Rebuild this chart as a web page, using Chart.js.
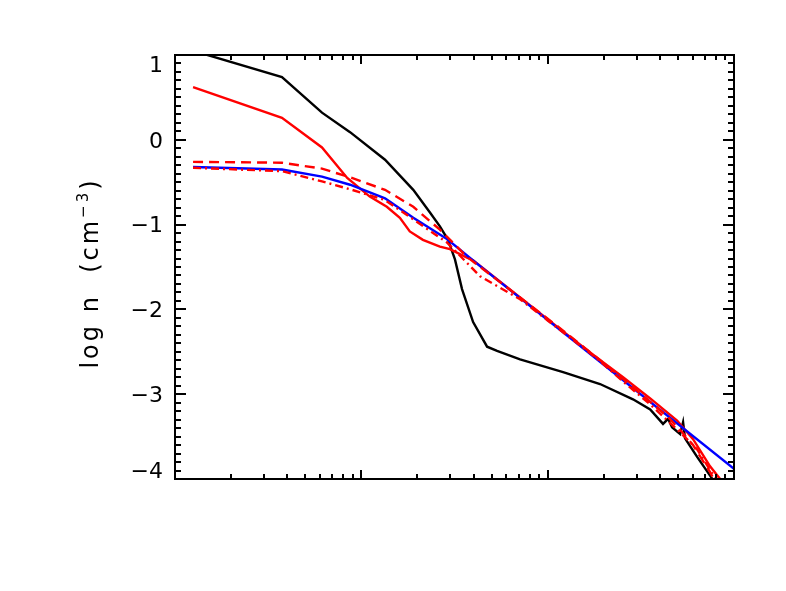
<!DOCTYPE html>
<html>
<head>
<meta charset="utf-8">
<script src="https://cdn.jsdelivr.net/npm/chart.js@4.4.1/dist/chart.umd.min.js"></script>
<style>
  html, body { margin: 0; padding: 0; background: #fff; }
  #wrap { width: 786px; height: 591px; }
</style>
</head>
<body>
<div id="wrap"><canvas id="densityChart" width="786" height="591"></canvas></div>
<script>
// radius-like x values (log axis, no labels) and log n values per curve
const blackX = [1.25, 3.75, 6.15, 8.7, 13.4, 19, 23.4, 26.4, 29.2, 31.8, 34.7, 39.8, 47.3, 53.5, 71.1, 121, 191, 287, 355, 416, 443, 465, 514, 533, 546, 634, 744, 822];
const blackY = [1.05, 0.74, 0.32, 0.09, -0.235, -0.59, -0.86, -1.02, -1.18, -1.41, -1.76, -2.15, -2.44, -2.49, -2.59, -2.74, -2.88, -3.06, -3.18, -3.35, -3.29, -3.39, -3.47, -3.33, -3.52, -3.74, -3.96, -4.1];

const redX = [1.25, 3.75, 6.15, 8.4, 11.1, 13.7, 16.1, 18.2, 21.4, 26.4, 29.9, 36.9, 39.8, 71.1, 121, 184, 254, 355, 495, 603, 744, 842, 900];
const redY = [0.62, 0.26, -0.09, -0.45, -0.67, -0.79, -0.92, -1.08, -1.18, -1.26, -1.29, -1.39, -1.42, -1.86, -2.26, -2.57, -2.80, -3.05, -3.31, -3.53, -3.85, -4.0, -4.1];

const redDashX = [1.25, 3.75, 6.15, 8.9, 13.4, 19, 26.4, 36.9, 71.1, 121, 184, 254, 355, 443, 514, 603, 744, 800];
const redDashY = [-0.26, -0.27, -0.34, -0.45, -0.59, -0.79, -1.06, -1.38, -1.86, -2.25, -2.57, -2.82, -3.09, -3.27, -3.42, -3.60, -3.92, -4.05];

const redDashDotX = [1.25, 3.75, 6.15, 8.9, 13.4, 28.8, 43.4, 71.1, 100, 184, 254, 355, 514, 634, 772, 842];
const redDashDotY = [-0.33, -0.37, -0.49, -0.59, -0.71, -1.21, -1.61, -1.88, -2.13, -2.58, -2.85, -3.12, -3.45, -3.65, -3.95, -4.1];

const blueX = [1.25, 3.75, 6.15, 8.7, 13.4, 19, 28.8, 43.4, 1000];
const blueY = [-0.32, -0.35, -0.435, -0.53, -0.69, -0.92, -1.17, -1.49, -3.88];

const yTickValues = [1, 0, -1, -2, -3, -4];
const xRange = [1, 1000];
const yRange = [-4, 1];

const toPoints = (xs, ys) => xs.map((x, i) => ({ x: x, y: ys[i] }));

const fontFamily = '"DejaVu Sans", "Liberation Sans", sans-serif';

// inward ticks on all four sides plus the box
const frameTicks = {
  id: 'frameTicks',
  afterDatasetsDraw(chart) {
    const { ctx, chartArea: a, scales: { x, y } } = chart;
    ctx.save();
    ctx.strokeStyle = '#000';
    ctx.lineWidth = 2;
    ctx.strokeRect(a.left, a.top, a.right - a.left, a.bottom - a.top);
    ctx.beginPath();
    for (let i = 0; i <= 50; i++) {
      const py = Math.round(y.getPixelForValue(yRange[0] + i * 0.1));
      const len = i % 10 === 0 ? 11 : 6;
      ctx.moveTo(a.left, py); ctx.lineTo(a.left + len, py);
      ctx.moveTo(a.right, py); ctx.lineTo(a.right - len, py);
    }
    for (let d = xRange[0]; d < xRange[1]; d *= 10) {
      for (let m = 1; m <= 9; m++) {
        if (d === xRange[0] && m === 1) continue;
        const px = Math.round(x.getPixelForValue(d * m));
        const len = m === 1 ? 9 : 5;
        ctx.moveTo(px, a.bottom); ctx.lineTo(px, a.bottom - len);
        ctx.moveTo(px, a.top); ctx.lineTo(px, a.top + len);
      }
    }
    ctx.stroke();
    ctx.restore();
  },
  afterDraw(chart) {
    // y title with superscript
    const { ctx, chartArea: a } = chart;
    ctx.save();
    ctx.fillStyle = '#000';
    ctx.textBaseline = 'alphabetic';
    ctx.letterSpacing = '3px';
    const big = '24px ' + fontFamily;
    const small = '15px ' + fontFamily;
    const parts = [['log n  (cm', big, 0], ['\u22123', small, -10], [')', big, 0]];
    let total = 0;
    parts.forEach(p => { ctx.font = p[1]; p.push(ctx.measureText(p[0]).width); total += p[3]; });
    ctx.translate(98, (a.top + a.bottom) / 2 + 6);
    ctx.rotate(-Math.PI / 2);
    let cx = -total / 2;
    parts.forEach(p => {
      ctx.font = p[1];
      ctx.fillText(p[0], cx, p[2]);
      cx += p[3];
    });
    ctx.restore();
  }
};

new Chart(document.getElementById('densityChart'), {
  type: 'line',
  data: {
    datasets: [
      { data: toPoints(redDashDotX, redDashDotY), borderColor: '#ff0000', borderDash: [8, 4, 2, 4], order: 0 },
      { data: toPoints(redDashX, redDashY), borderColor: '#ff0000', borderDash: [10, 6], order: 1 },
      { data: toPoints(blueX, blueY), borderColor: '#0000ff', order: 2 },
      { data: toPoints(redX, redY), borderColor: '#ff0000', order: 3 },
      { data: toPoints(blackX, blackY), borderColor: '#000000', order: 4 }
    ]
  },
  options: {
    responsive: false,
    animation: false,
    devicePixelRatio: 1,
    layout: { padding: { left: 0, top: 55, right: 52, bottom: 112 } },
    elements: {
      line: { borderWidth: 2.4, tension: 0, fill: false },
      point: { radius: 0 }
    },
    plugins: { legend: { display: false }, tooltip: { enabled: false } },
    scales: {
      x: {
        type: 'logarithmic',
        min: xRange[0],
        max: xRange[1],
        display: false
      },
      y: {
        type: 'linear',
        min: yRange[0],
        max: yRange[1],
        afterFit: (scale) => { scale.width = 175; },
        afterBuildTicks: (scale) => { scale.ticks = yTickValues.map(v => ({ value: v })); },
        grid: { display: false, drawTicks: false },
        border: { display: false },
        ticks: {
          padding: 12,
          labelOffset: 2,
          color: '#000',
          font: { family: fontFamily, size: 22, lineHeight: 0.8 },
          callback: (v) => {
            const s = v < 0 ? '\u2212' + Math.abs(v) : String(v);
            if (v === yRange[1]) return ['', s];
            if (v === yRange[0]) return [s, ''];
            return s;
          }
        }
      }
    }
  },
  plugins: [frameTicks]
});
</script>
</body>
</html>
